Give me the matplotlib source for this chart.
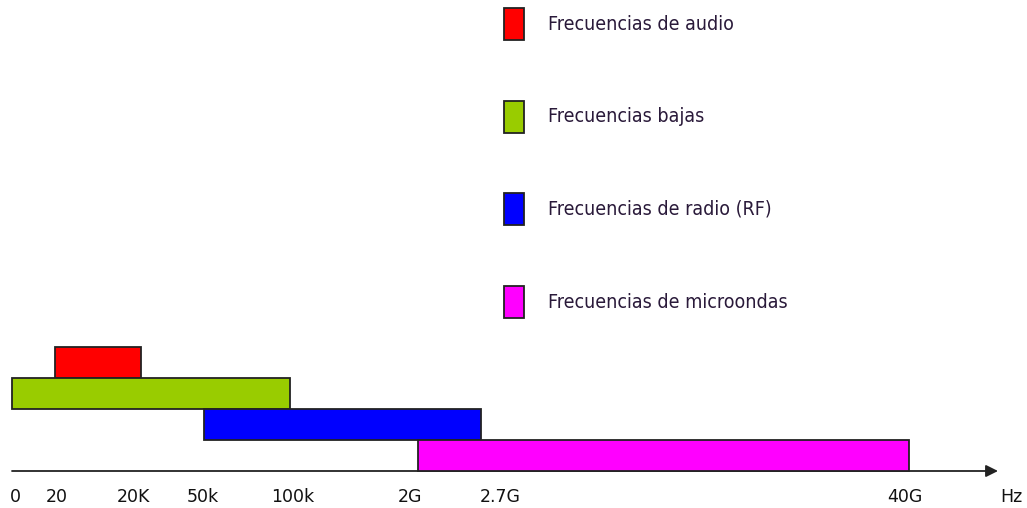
from matplotlib import pyplot as plt
from matplotlib.patches import Rectangle

# schematic (non-linear) frequency axis: each mark label has a place on the axis
marks = ['0', '20', '20K', '50k', '100k', '2G', '2.7G', '40G']
mark_pos = [12, 55, 141, 204, 290, 418, 481, 909]
label_pos = [15, 57, 133, 203, 293, 410, 500, 905]

bands = ['Frecuencias de audio', 'Frecuencias bajas',
         'Frecuencias de radio (RF)', 'Frecuencias de microondas']
band_start = ['20', '0', '50k', '2G']
band_end = ['20K', '100k', '2.7G', '40G']
band_row = [3, 2, 1, 0]
colors = ['#ff0000', '#99cc00', '#0000ff', '#ff00ff']

fig = plt.figure(figsize=(10.27, 5.08), dpi=100)
ax = fig.add_axes([0, 0, 1, 1])
ax.set_xlim(0, 1027)
ax.set_ylim(-37 / 31, (508 - 37) / 31)
ax.axis('off')

pos = dict(zip(marks, mark_pos))
for s, e, r, c in zip(band_start, band_end, band_row, colors):
    ax.barh(r, pos[e] - pos[s], left=pos[s], height=1, align='edge',
            color=c, edgecolor='#222222', linewidth=1.3, zorder=2)

ax.annotate('', xy=(998, 0), xytext=(12, 0),
            arrowprops=dict(arrowstyle='-|>', color='#222222', lw=1.3,
                            mutation_scale=18, shrinkA=0, shrinkB=0), zorder=1)

for m, x in zip(marks, label_pos):
    ax.text(x, -0.84, m, ha='center', va='center', fontsize=12.5, color='#111111')
ax.text(1011, -0.84, 'Hz', ha='center', va='center', fontsize=12.5, color='#111111')

# legend on the upper right
for i, (b, c) in enumerate(zip(bands, colors)):
    yc = 1 - (24 + i * 92.7) / 508
    ax.add_patch(Rectangle((504 / 1027, yc - 16 / 508), 20 / 1027, 32 / 508,
                           transform=ax.transAxes, facecolor=c,
                           edgecolor='#222222', linewidth=1.3))
    ax.text(548 / 1027, yc, b, transform=ax.transAxes, ha='left', va='center',
            fontsize=14, family='DejaVu Sans', fontstretch='condensed',
            color='#2a1a3a')

fig.savefig('out.png', dpi=100)
